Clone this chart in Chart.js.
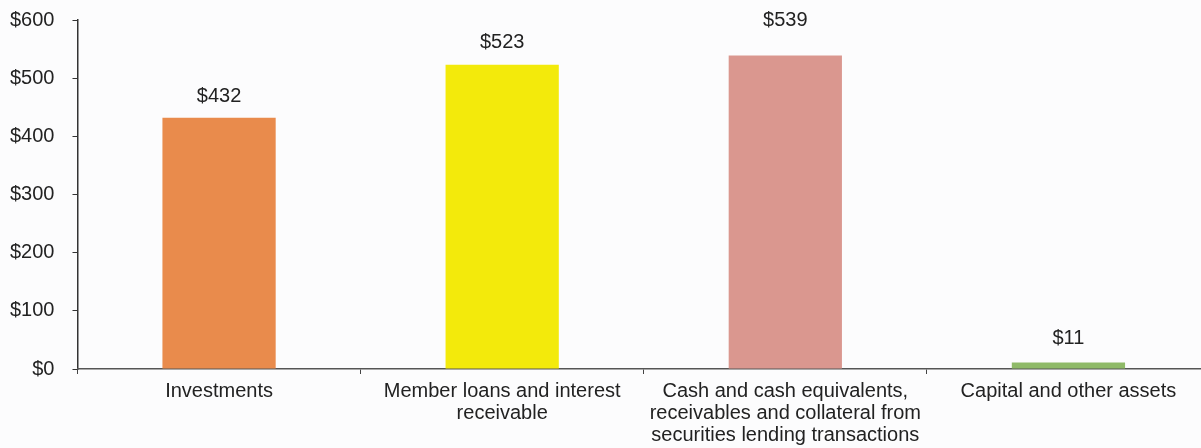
<!DOCTYPE html>
<html>
<head>
<meta charset="utf-8">
<script src="https://cdn.jsdelivr.net/npm/chart.js@4"></script>
<style>
  html, body { margin: 0; padding: 0; background: #fcfcfd; overflow: hidden; }
  #wrap { width: 1210px; height: 462px; margin-top: -10px; }
</style>
</head>
<body>
<div id="wrap"><canvas id="assetsChart" width="1210" height="462"></canvas></div>
<script>
const categories = [
    'Investments',
    ['Member loans and interest', 'receivable'],
    ['Cash and cash equivalents,', 'receivables and collateral from', 'securities lending transactions'],
    'Capital and other assets'
];
const values = [432, 523, 539, 11];
const barColors = ['#e98b4c', '#f3ea0b', '#da978f', '#8fba68'];
const yTicks = [0, 100, 200, 300, 400, 500, 600];

// draws "$432" etc above each bar
const valueLabels = {
    id: 'valueLabels',
    afterDatasetsDraw(chart, args, opts) {
        const ctx = chart.ctx;
        const meta = chart.getDatasetMeta(0);
        ctx.save();
        ctx.font = '20px "Liberation Sans", Arial, sans-serif';
        ctx.fillStyle = '#222';
        ctx.textAlign = 'center';
        ctx.textBaseline = 'middle';
        meta.data.forEach((bar, i) => {
            const off = opts.offsets[i];
            ctx.fillText('$' + values[i], bar.x, bar.y - off);
        });
        ctx.restore();
    }
};

const ctx = document.getElementById('assetsChart').getContext('2d');
new Chart(ctx, {
    type: 'bar',
    data: {
        labels: categories,
        datasets: [{
            data: values,
            backgroundColor: barColors,
            barPercentage: 0.4,
            categoryPercentage: 1.0
        }]
    },
    options: {
        responsive: false,
        animation: false,
        layout: { padding: { top: 1, left: -8, right: 0, bottom: 0 } },
        plugins: {
            legend: { display: false },
            tooltip: { enabled: false },
            valueLabels: { offsets: [21, 22, 35, 24] }
        },
        scales: {
            y: {
                min: 0,
                max: 600,
                afterBuildTicks: axis => { axis.ticks = yTicks.map(v => ({ value: v })); },
                ticks: {
                    callback: v => '$' + v,
                    color: '#222',
                    padding: 18,
                    font: { family: '"Liberation Sans", Arial, sans-serif', size: 20 }
                },
                grid: { drawOnChartArea: false, drawTicks: true, tickLength: 5, color: '#333' },
                border: { display: true, color: '#333', width: 1.5 }
            },
            x: {
                ticks: {
                    color: '#222',
                    padding: 6,
                    maxRotation: 0,
                    autoSkip: false,
                    font: { family: '"Liberation Sans", Arial, sans-serif', size: 20, lineHeight: 1.1 }
                },
                grid: { drawOnChartArea: false, drawTicks: true, tickLength: 5, color: '#444', offset: true },
                border: { display: true, color: '#555', width: 1.5 }
            }
        }
    },
    plugins: [valueLabels]
});
</script>
</body>
</html>
